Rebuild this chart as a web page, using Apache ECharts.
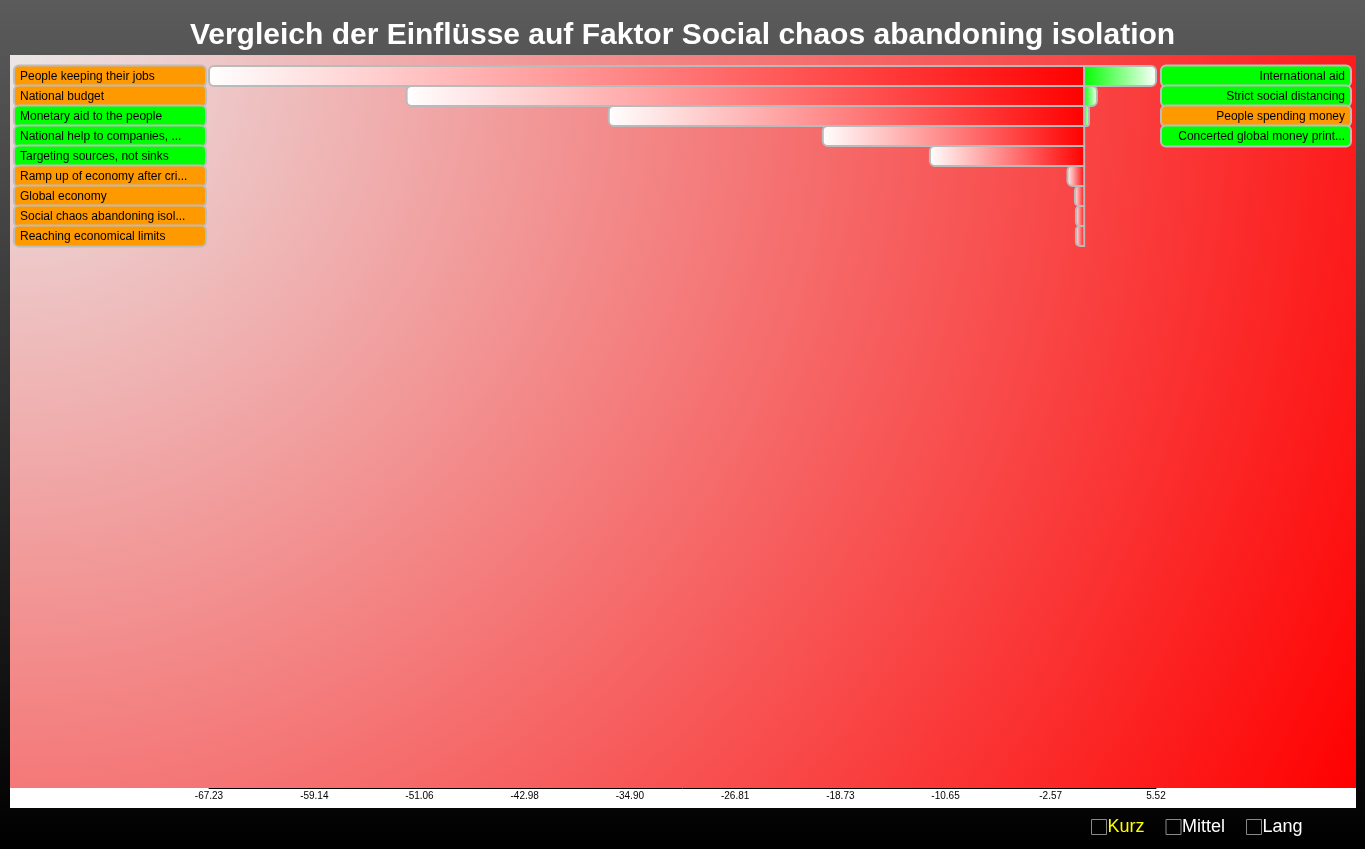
<!DOCTYPE html>
<html>
<head>
<meta charset="utf-8">
<script src="https://cdn.jsdelivr.net/npm/echarts@6/dist/echarts.min.js"></script>
<style>
  html, body { margin: 0; padding: 0; background: #000; }
  #chart { width: 1365px; height: 849px; }
</style>
</head>
<body>
<div id="chart"></div>
<script>
// ---- data ----
const leftLabels = [
  'People keeping their jobs',
  'National budget',
  'Monetary aid to the people',
  'National help to companies, ...',
  'Targeting sources, not sinks',
  'Ramp up of economy after cri...',
  'Global economy',
  'Social chaos abandoning isol...',
  'Reaching economical limits'
];
const leftKinds = ['o', 'o', 'g', 'g', 'g', 'o', 'o', 'o', 'o'];
const leftValues = [-67.23, -52.05, -36.52, -20.08, -11.85, -1.28, -0.71, -0.63, -0.63];

const rightLabels = [
  'International aid',
  'Strict social distancing',
  'People spending money',
  'Concerted global money print...'
];
const rightKinds = ['g', 'g', 'o', 'g'];
const rightValues = [5.52, 0.98, 0.37, 0];

const tickLabels = ['-67.23', '-59.14', '-51.06', '-42.98', '-34.90', '-26.81', '-18.73', '-10.65', '-2.57', '5.52'];
const axisMin = -67.23;
const axisMax = 5.52;

const legendNames = ['Kurz', 'Mittel', 'Lang'];
const titleText = 'Vergleich der Einflüsse auf Faktor Social chaos abandoning isolation';

// ---- build ----
const FONT = '"Liberation Sans", Arial, Helvetica, sans-serif';
const rightPadded = leftLabels.map((_, i) => rightLabels[i] || '');

const barData = [];
leftValues.forEach((v, i) => barData.push([v, i]));
rightValues.forEach((v, i) => barData.push([v, i]));

function rich(align, w) {
  const boxCommon = {
    width: w, height: 18, lineHeight: 18,
    padding: [1, 5, 0, 5],
    borderColor: '#bcbcbc', borderWidth: 2, borderRadius: 4,
    fontSize: 12, color: '#000', fontFamily: FONT, align: align
  };
  return {
    o: Object.assign({}, boxCommon, { backgroundColor: '#ff9900' }),
    g: Object.assign({}, boxCommon, { backgroundColor: '#00ff00' })
  };
}

const chart = echarts.init(document.getElementById('chart'));
chart.setOption({
  animation: false,
  backgroundColor: new echarts.graphic.LinearGradient(0, 0, 0, 1, [
    { offset: 0, color: '#5b5b5b' },
    { offset: 1, color: '#000000' }
  ]),
  title: {
    text: titleText,
    left: 'center', top: 16,
    textStyle: { color: '#fff', fontSize: 30, fontWeight: 'bold', fontFamily: FONT }
  },
  graphic: {
    elements: [
      {
        type: 'rect', z: -10, silent: true,
        shape: { x: 10, y: 55, width: 1346, height: 733 },
        style: {
          fill: new echarts.graphic.RadialGradient(10, 55, 1533, [
            { offset: 0, color: '#ebe6e6' },
            { offset: 1, color: '#ff0000' }
          ], true)
        }
      },
      {
        type: 'rect', z: -10, silent: true,
        shape: { x: 10, y: 788, width: 1346, height: 20 },
        style: { fill: '#ffffff' }
      }
    ]
  },
  legend: {
    left: 1086, top: 813,
    icon: 'rect', itemWidth: 15, itemHeight: 15, itemGap: 21,
    itemStyle: { color: 'rgba(0,0,0,0)', borderColor: '#8a8a8a', borderWidth: 1 },
    textStyle: { color: '#ffffff', fontSize: 18, fontFamily: FONT, padding: [0, 0, 0, -4] },
    data: [
      { name: legendNames[0], textStyle: { color: '#ffff00' } },
      legendNames[1], legendNames[2]
    ]
  },
  grid: [
    { left: 209, width: 947, top: 66, height: 180 },
    { left: 209, width: 947, top: 55, height: 733 }
  ],
  xAxis: [
    { gridIndex: 0, type: 'value', min: axisMin, max: axisMax, show: false },
    {
      gridIndex: 1, type: 'value', min: axisMin, max: axisMax,
      axisLine: { show: true, lineStyle: { color: '#000', width: 1 } },
      axisTick: { show: false },
      splitLine: { show: false },
      axisLabel: {
        customValues: tickLabels.map(Number),
        formatter: (v) => {
          const i = tickLabels.map(Number).indexOf(v);
          return i >= 0 ? tickLabels[i] : '';
        },
        fontSize: 10, color: '#000', margin: 3, fontFamily: FONT
      }
    }
  ],
  yAxis: [
    {
      gridIndex: 0, type: 'category', inverse: true, data: leftLabels, position: 'left',
      axisLine: { show: false }, axisTick: { show: false }, splitLine: { show: false },
      axisLabel: {
        interval: 0, margin: 4,
        formatter: (v, i) => v ? '{' + leftKinds[i] + '|' + v + '}' : '',
        rich: rich('left', 180)
      }
    },
    {
      gridIndex: 0, type: 'category', inverse: true, data: rightPadded, position: 'right',
      axisLine: { show: false }, axisTick: { show: false }, splitLine: { show: false },
      axisLabel: {
        interval: 0, margin: 6,
        formatter: (v, i) => v ? '{' + rightKinds[i] + '|' + v + '}' : '',
        rich: rich('right', 178)
      }
    },
    { gridIndex: 1, type: 'value', show: false }
  ],
  series: [
    {
      name: legendNames[0],
      type: 'custom',
      xAxisIndex: 0, yAxisIndex: 0,
      data: barData,
      encode: { x: 0, y: 1 },
      itemStyle: { color: '#ff0000' },
      renderItem: function (params, api) {
        const v = api.value(0);
        const row = api.value(1);
        const a = api.coord([0, row]);
        const b = api.coord([v, row]);
        const h = api.size([0, 1])[1];
        const x = Math.min(a[0], b[0]);
        const w = Math.abs(b[0] - a[0]);
        if (w < 0.5) return { type: 'group', children: [] };
        const neg = v < 0;
        const r = Math.min(5, w / 2);
        const fill = neg
          ? new echarts.graphic.LinearGradient(0, 0, 1, 0, [
              { offset: 0, color: '#ffffff' }, { offset: 1, color: '#ff0000' }])
          : new echarts.graphic.LinearGradient(0, 0, 1, 0, [
              { offset: 0, color: '#00ff00' }, { offset: 1, color: '#ffffff' }]);
        return {
          type: 'rect',
          shape: { x: x, y: a[1] - h / 2, width: w, height: h, r: neg ? [r, 0, 0, r] : [0, r, r, 0] },
          style: { fill: fill, stroke: '#bababa', lineWidth: 2 }
        };
      }
    },
    { name: legendNames[1], type: 'bar', xAxisIndex: 0, yAxisIndex: 0, data: [] },
    { name: legendNames[2], type: 'bar', xAxisIndex: 0, yAxisIndex: 0, data: [] }
  ]
});
</script>
</body>
</html>
